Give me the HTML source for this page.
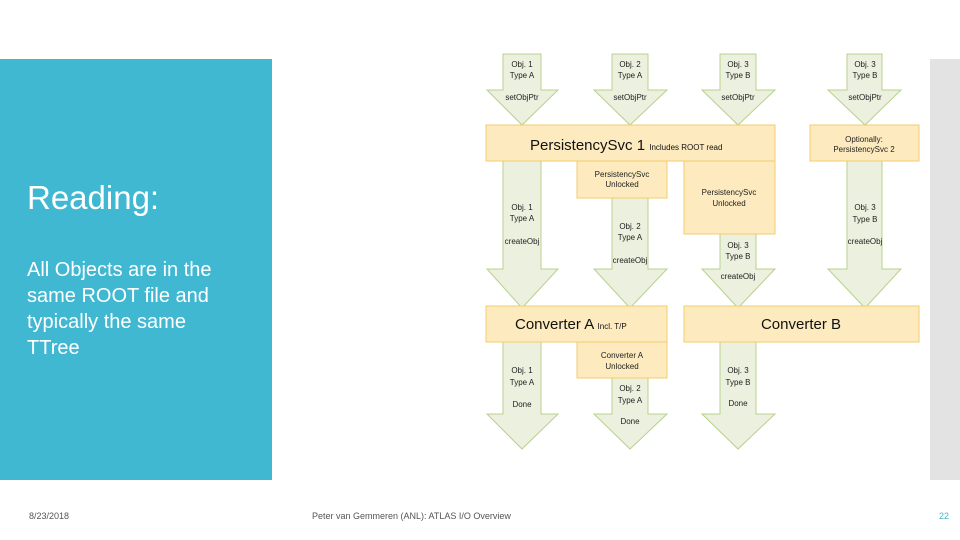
<!DOCTYPE html>
<html><head><meta charset="utf-8"><style>
html,body{margin:0;padding:0;background:#fff}
svg{display:block}
text{font-family:"Liberation Sans",sans-serif}
</style></head><body>
<svg width="960" height="540" viewBox="0 0 960 540" xmlns="http://www.w3.org/2000/svg">
<rect x="0" y="59" width="272" height="421" fill="#41b8d2"/>
<rect x="930" y="59" width="30" height="421" fill="#e3e3e3"/>
<text x="27" y="209" font-size="33" fill="#fff">Reading:</text>
<g font-size="20" fill="#fff">
<text x="27" y="276">All Objects are in the</text>
<text x="27" y="302">same  ROOT file and</text>
<text x="27" y="328">typically the same</text>
<text x="27" y="354">TTree</text>
</g>
<g fill="#ebf1de" stroke="#b8d08e" stroke-width="1">
<!-- top arrows -->
<polygon points="503,54 541,54 541,90 558,90 522,125 487,90 503,90"/>
<polygon points="612,54 648,54 648,90 667,90 630,125 594,90 612,90"/>
<polygon points="720,54 756,54 756,90 775,90 738,125 702,90 720,90"/>
<polygon points="847,54 882,54 882,90 901,90 865,125 828,90 847,90"/>
<!-- middle arrows -->
<polygon points="503,161 541,161 541,269 558,269 522,308 487,269 503,269"/>
<polygon points="612,198 648,198 648,269 667,269 630,308 594,269 612,269"/>
<polygon points="720,234 756,234 756,269 775,269 738,308 702,269 720,269"/>
<polygon points="847,161 882,161 882,269 901,269 865,308 828,269 847,269"/>
<!-- bottom arrows -->
<polygon points="503,342 541,342 541,414 558,414 522,449 487,414 503,414"/>
<polygon points="612,378 648,378 648,414 667,414 630,449 594,414 612,414"/>
<polygon points="720,342 756,342 756,414 775,414 738,449 702,414 720,414"/>
</g>
<g fill="#fdebbf" stroke="#f2cd6c" stroke-width="1">
<rect x="486" y="125" width="289" height="36"/>
<rect x="810" y="125" width="109" height="36"/>
<rect x="577" y="161" width="90" height="37"/>
<rect x="684" y="161" width="91" height="73"/>
<rect x="486" y="306" width="181" height="36"/>
<rect x="684" y="306" width="235" height="36"/>
<rect x="577" y="342" width="90" height="36"/>
</g>
<g font-size="8" fill="#222" text-anchor="middle">
<text x="522" y="67">Obj. 1</text><text x="522" y="78">Type A</text><text x="522" y="100">setObjPtr</text>
<text x="630" y="67">Obj. 2</text><text x="630" y="78">Type A</text><text x="630" y="100">setObjPtr</text>
<text x="738" y="67">Obj. 3</text><text x="738" y="78">Type B</text><text x="738" y="100">setObjPtr</text>
<text x="865" y="67">Obj. 3</text><text x="865" y="78">Type B</text><text x="865" y="100">setObjPtr</text>
<text x="864" y="142">Optionally:</text><text x="864" y="152">PersistencySvc 2</text>
<text x="622" y="177">PersistencySvc</text><text x="622" y="187">Unlocked</text>
<text x="729" y="195">PersistencySvc</text><text x="729" y="206">Unlocked</text>
<text x="522" y="210">Obj. 1</text><text x="522" y="221">Type A</text><text x="522" y="244">createObj</text>
<text x="630" y="229">Obj. 2</text><text x="630" y="240">Type A</text><text x="630" y="263">createObj</text>
<text x="738" y="248">Obj. 3</text><text x="738" y="259">Type B</text><text x="738" y="279">createObj</text>
<text x="865" y="210">Obj. 3</text><text x="865" y="222">Type B</text><text x="865" y="244">createObj</text>
<text x="622" y="358">Converter A</text><text x="622" y="369">Unlocked</text>
<text x="522" y="373">Obj. 1</text><text x="522" y="385">Type A</text><text x="522" y="407">Done</text>
<text x="630" y="391">Obj. 2</text><text x="630" y="403">Type A</text><text x="630" y="424">Done</text>
<text x="738" y="373">Obj. 3</text><text x="738" y="385">Type B</text><text x="738" y="406">Done</text>
</g>
<text x="530" y="150" font-size="15" fill="#111">PersistencySvc 1 <tspan font-size="8">Includes ROOT read</tspan></text>
<text x="515" y="329" font-size="15" fill="#111">Converter A <tspan font-size="8">Incl. T/P</tspan></text>
<text x="801" y="329" font-size="15" fill="#111" text-anchor="middle">Converter B</text>
<g font-size="9" fill="#555">
<text x="29" y="519">8/23/2018</text>
<text x="312" y="519">Peter van Gemmeren (ANL): ATLAS I/O Overview</text>
<text x="939" y="519" fill="#41b8d2">22</text>
</g>
</svg>
</body></html>
